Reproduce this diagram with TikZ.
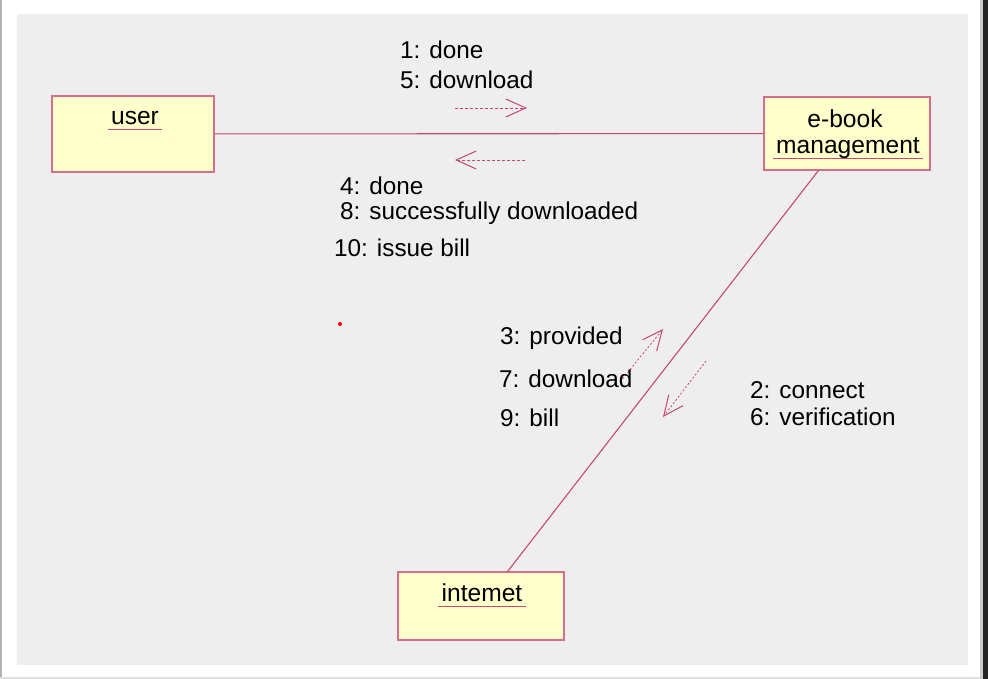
\documentclass[tikz,border=0pt]{standalone}
\usepackage{fontspec}
\setmainfont{Liberation Sans}
\usetikzlibrary{arrows.meta, calc}

\definecolor{panelgray}{RGB}{238,238,238}
\definecolor{boxfill}{RGB}{255,255,204}
\definecolor{boxedge}{RGB}{212,110,140}
\definecolor{umlline}{RGB}{200,72,112}

\tikzset{
  classbox/.style={draw=boxedge, fill=boxfill, line width=1.2pt, inner sep=0pt},
  clslabel/.style={inner xsep=3pt, inner ysep=0pt, font=\fontsize{24.6}{28}\selectfont},
  uline/.style={draw=umlline, line width=1pt},
  link/.style={draw=umlline, line width=1.1pt},
  msgtext/.style={anchor=west, inner sep=0pt, font=\fontsize{24.3}{28}\selectfont},
  msgarrow/.style={draw=umlline, line width=0.8pt, dash pattern=on 3pt off 2pt,
    -{Straight Barb[length=20pt, width=18pt, line width=1pt]}}
}

\begin{document}
\begin{tikzpicture}[x=1pt, y=-1pt]
      \useasboundingbox (0,0) rectangle (988,679);
      % Frame
      \fill[white] (0,0) rectangle (988,679);
      \fill[panelgray] (17,14) rectangle (968,665);
      \draw[gray!60, line width=2pt] (1,0) -- (1,679);
      \fill[gray!40] (980,0) rectangle (983,679);
      \fill[black!85] (983,0) rectangle (988,679);
      \draw[gray!25, line width=1.5pt] (0,678) -- (980,678);

      % Objects
      \node[classbox, minimum width=162pt, minimum height=76pt] (user) at (133,134) {};
      \node[classbox, minimum width=166pt, minimum height=73pt] (ebook) at (847,133.5) {};
      \node[classbox, minimum width=166pt, minimum height=68pt] (internet) at (481,606) {};

      % Object names
      \node[clslabel] (userlbl) at (135,118) {user};
      \draw[uline] ([yshift=-5pt]userlbl.base west) -- ([yshift=-5pt]userlbl.base east);
      \node[clslabel] (ebooktop) at (845,119) {e-book};
      \node[clslabel] (ebooklbl) at (848,148) {management};
      \draw[uline] ([yshift=-5pt]ebooklbl.base west) -- ([yshift=-5pt]ebooklbl.base east);
      \node[clslabel] (internetlbl) at (482,593) {intemet};
      \draw[uline] ([yshift=-5pt]internetlbl.base west) -- ([yshift=-5pt]internetlbl.base east);

      % Links
      \draw[link] (user) -- (ebook);
      \draw[link] (ebook) -- (internet);

      % Messages user -- e-book
      \coordinate (m1s) at (455,108);
      \coordinate (m1e) at (527,108);
      \coordinate (m2s) at (525,160);
      \coordinate (m2e) at (455,160);
      \draw[msgarrow] (m1s) -- (m1e);
      \draw[msgarrow] (m2s) -- (m2e);
      \node[msgtext] (t1) at (400,50) {1: done};
      \node[msgtext] (t5) at (400,80) {5: download};
      \node[msgtext] (t4) at (340,186) {4: done};
      \node[msgtext] (t8) at (340,213) {8: successfully downloaded};
      \node[msgtext] (t10) at (334,248) {10: issue bill};

      % Messages e-book -- internet
      \coordinate (m3s) at (620,382);
      \coordinate (m3e) at (663,329);
      \coordinate (m4s) at (706,361);
      \coordinate (m4e) at (663,417);
      \draw[msgarrow, dash pattern=on 2pt off 2pt] (m3s) -- (m3e);
      \draw[msgarrow, dash pattern=on 2pt off 2pt] (m4s) -- (m4e);
      \node[msgtext] (t3) at (500,338) {3: provided};
      \node[msgtext] (t7) at (499,379) {7: download};
      \node[msgtext] (t9) at (500,418) {9: bill};
      \node[msgtext] (t2) at (750,390) {2: connect};
      \node[msgtext] (t6) at (750,417) {6: verification};

      % Stray mark
      \fill[red] (340,324) circle (2pt);
\end{tikzpicture}
\end{document}
